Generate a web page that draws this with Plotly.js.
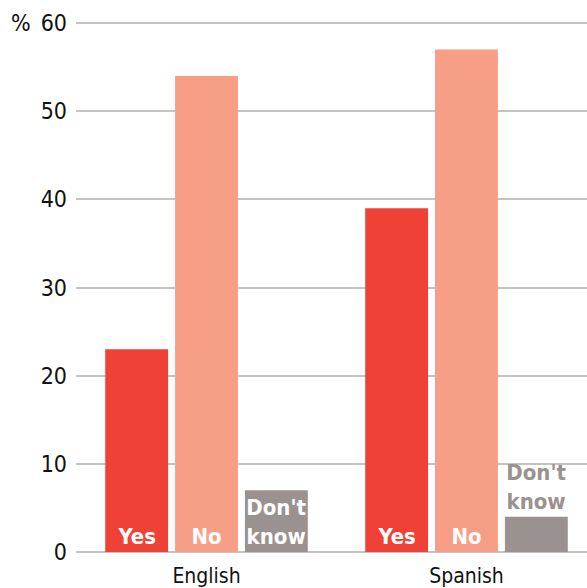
<!DOCTYPE html>
<html>
<head>
<meta charset="utf-8">
<script src="https://cdn.plot.ly/plotly-3.0.1.min.js"></script>
<style>html,body{margin:0;padding:0;background:#fff}#chart{width:587px;height:588px}</style>
</head>
<body>
<div id="chart"></div>
<script>
const categories = ["English", "Spanish"];
const yesValues = [23, 39];
const noValues = [54, 57];
const dontKnowValues = [7, 4];
const seriesNames = ["Yes", "No", "Don't<br>know"];
const yTicks = [0, 10, 20, 30, 40, 50, 60];

const condensed = '"Liberation Sans Narrow", "DejaVu Sans Condensed", "Roboto", sans-serif';

function barTrace(name, values, color, outsideColor) {
  return {
    type: 'bar',
    x: categories,
    y: values,
    name: name,
    marker: {color: color, line: {width: 0}},
    text: values.map(() => name),
    texttemplate: '%{text}',
    textposition: 'auto',
    insidetextanchor: 'start',
    textangle: 0,
    constraintext: 'none',
    cliponaxis: false,
    insidetextfont: {family: condensed, size: 22, color: '#ffffff', weight: 'bold'},
    outsidetextfont: {family: condensed, size: 22, color: outsideColor, weight: 'bold'},
    hoverinfo: 'none'
  };
}

const data = [
  barTrace(seriesNames[0], yesValues, '#ef4136', '#ef4136'),
  barTrace(seriesNames[1], noValues, '#f69f86', '#f69f86'),
  barTrace(seriesNames[2], dontKnowValues, '#9a9290', '#9a9290')
];

const layout = {
  width: 587,
  height: 588,
  margin: {l: 76, r: 0, t: 14, b: 33},
  paper_bgcolor: '#ffffff',
  plot_bgcolor: '#ffffff',
  showlegend: false,
  barmode: 'group',
  bargap: 0.194,
  bargroupgap: 0.1,
  font: {family: condensed, color: '#111111'},
  xaxis: {
    type: 'category',
    range: [-0.502, 1.4635],
    showgrid: false,
    zeroline: false,
    showline: false,
    ticks: '',
    tickfont: {family: condensed, size: 21, color: '#111111'},
    ticklabelstandoff: 6
  },
  yaxis: {
    range: [-0.34, 61.02],
    tickvals: yTicks,
    ticktext: yTicks.map(String),
    showgrid: true,
    gridcolor: '#c3c3c3',
    gridwidth: 2,
    zeroline: false,
    showline: false,
    ticks: '',
    tickfont: {family: condensed, size: 23, color: '#111111'},
    ticklabelstandoff: 8
  },
  annotations: [{
    text: '%',
    xref: 'paper', yref: 'y',
    x: 0, y: 60,
    xanchor: 'right', yanchor: 'middle',
    xshift: -43,
    showarrow: false,
    font: {family: condensed, size: 23, color: '#111111'}
  }]
};

Plotly.newPlot('chart', data, layout, {displayModeBar: false, staticPlot: true});
</script>
</body>
</html>
